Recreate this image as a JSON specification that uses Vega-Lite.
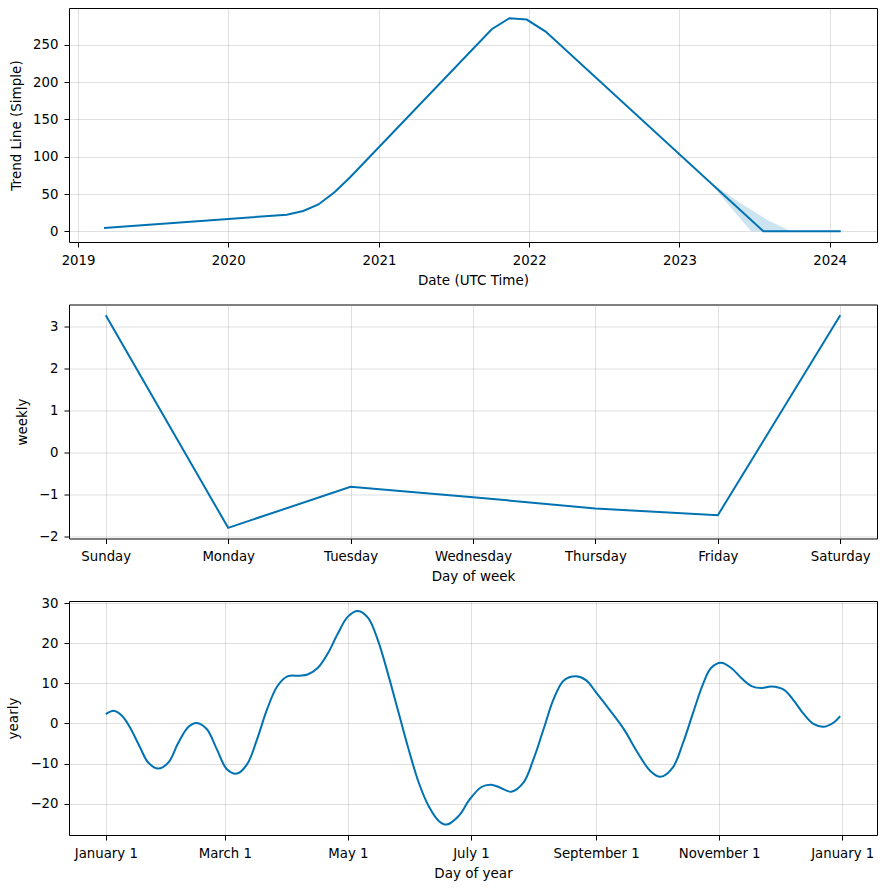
{
  "$schema": "https://vega.github.io/schema/vega-lite/v6.json",
  "padding": {"left": 6, "top": 7, "right": 5, "bottom": 5},
  "bounds": "flush",
  "spacing": 62.5,
  "background": "white",
  "config": {
    "font": "DejaVu Sans",
    "view": {"stroke": "black", "strokeWidth": 1},
    "axis": {
      "labelFont": "DejaVu Sans", "labelFontSize": 13.3, "labelColor": "black",
      "titleFont": "DejaVu Sans", "titleFontSize": 13.5, "titleFontWeight": "normal", "titleColor": "black",
      "tickColor": "black", "tickSize": 5, "tickWidth": 1, "domain": false,
      "gridColor": "#808080", "gridOpacity": 0.25, "gridWidth": 1,
      "labelPadding": 6, "titlePadding": 7
    },
    "axisY": {"titlePadding": 9}
  },
  "vconcat": [
    {
      "width": 808, "height": 234,
      "layer": [
        {
          "data": {"values": [
            {"date": "2023-03-14", "lower": 66.7, "upper": 66.7},
            {"date": "2023-05-26", "lower": 19, "upper": 39},
            {"date": "2023-06-24", "lower": 0, "upper": 29},
            {"date": "2023-08-04", "lower": 0, "upper": 15},
            {"date": "2023-09-29", "lower": 0, "upper": 0},
            {"date": "2024-01-28", "lower": 0, "upper": 0}
          ]},
          "mark": {"type": "area", "color": "#0072B2", "opacity": 0.2},
          "encoding": {
            "x": {"field": "date", "type": "temporal",
                  "scale": {"type": "utc", "domain": [{"year": 2018, "month": 12, "date": 10, "utc": true}, {"year": 2024, "month": 4, "date": 25, "utc": true}], "nice": false},
                  "title": "Date (UTC Time)"},
            "y": {"field": "upper", "type": "quantitative", "title": "Trend Line (Simple)",
                  "scale": {"domain": [-14.3, 299.5], "nice": false, "zero": false}},
            "y2": {"field": "lower"}
          }
        },
        {
          "data": {"values": [
            {"date": "2019-03-05", "trend": 4.4},
            {"date": "2020-05-22", "trend": 22.3},
            {"date": "2020-07-01", "trend": 27.3},
            {"date": "2020-08-07", "trend": 36},
            {"date": "2020-09-15", "trend": 52.4},
            {"date": "2020-10-23", "trend": 72.6},
            {"date": "2021-10-02", "trend": 271},
            {"date": "2021-11-14", "trend": 285.8},
            {"date": "2021-12-26", "trend": 284},
            {"date": "2022-02-10", "trend": 267.9},
            {"date": "2023-07-24", "trend": 0},
            {"date": "2024-01-28", "trend": 0}
          ]},
          "mark": {"type": "line", "color": "#0072B2", "strokeWidth": 2},
          "encoding": {
            "x": {"field": "date", "type": "temporal",
                  "scale": {"type": "utc", "domain": [{"year": 2018, "month": 12, "date": 10, "utc": true}, {"year": 2024, "month": 4, "date": 25, "utc": true}], "nice": false},
                  "title": "Date (UTC Time)",
                  "axis": {"format": "%Y", "grid": true,
                           "values": [{"year": 2019, "month": 1, "date": 1, "utc": true}, {"year": 2020, "month": 1, "date": 1, "utc": true}, {"year": 2021, "month": 1, "date": 1, "utc": true}, {"year": 2022, "month": 1, "date": 1, "utc": true}, {"year": 2023, "month": 1, "date": 1, "utc": true}, {"year": 2024, "month": 1, "date": 1, "utc": true}]}},
            "y": {"field": "trend", "type": "quantitative", "title": "Trend Line (Simple)",
                  "scale": {"domain": [-14.3, 299.5], "nice": false, "zero": false},
                  "axis": {"values": [0, 50, 100, 150, 200, 250]}}
          }
        }
      ]
    },
    {
      "width": 808, "height": 234,
      "data": {"values": [
        {"day": "Sunday", "weekly": 3.276},
        {"day": "Monday", "weekly": -1.786},
        {"day": "Tuesday", "weekly": -0.81},
        {"day": "Wednesday", "weekly": -1.057},
        {"day": "Thursday", "weekly": -1.326},
        {"day": "Friday", "weekly": -1.486},
        {"day": "Saturday", "weekly": 3.276}
      ]},
      "mark": {"type": "line", "color": "#0072B2", "strokeWidth": 2},
      "encoding": {
        "x": {"field": "day", "type": "ordinal",
              "sort": ["Sunday", "Monday", "Tuesday", "Wednesday", "Thursday", "Friday", "Saturday"],
              "scale": {"type": "point", "padding": 0.3},
              "title": "Day of week",
              "axis": {"labelAngle": 0, "grid": true, "ticks": true}},
        "y": {"field": "weekly", "type": "quantitative", "title": "weekly",
              "scale": {"domain": [-2.04, 3.53], "nice": false, "zero": false},
              "axis": {"values": [-2, -1, 0, 1, 2, 3], "labelExpr": "replace(datum.label, '-', '−')"}}
      }
    },
    {
      "width": 808, "height": 234,
      "data": {"values": [
        {"date": "2017-01-01", "yearly": 2.3},
        {"date": "2017-01-05", "yearly": 3.15},
        {"date": "2017-01-09", "yearly": 1.9},
        {"date": "2017-01-13", "yearly": -1.0},
        {"date": "2017-01-18", "yearly": -6.0},
        {"date": "2017-01-22", "yearly": -9.75},
        {"date": "2017-01-27", "yearly": -11.25},
        {"date": "2017-02-01", "yearly": -9.75},
        {"date": "2017-02-06", "yearly": -4.75},
        {"date": "2017-02-11", "yearly": -0.85},
        {"date": "2017-02-15", "yearly": 0.1},
        {"date": "2017-02-20", "yearly": -1.4},
        {"date": "2017-02-25", "yearly": -6.4},
        {"date": "2017-03-02", "yearly": -11.4},
        {"date": "2017-03-07", "yearly": -12.5},
        {"date": "2017-03-12", "yearly": -10.2},
        {"date": "2017-03-17", "yearly": -3.9},
        {"date": "2017-03-22", "yearly": 3.6},
        {"date": "2017-03-27", "yearly": 9.25},
        {"date": "2017-04-01", "yearly": 11.7},
        {"date": "2017-04-07", "yearly": 11.9},
        {"date": "2017-04-11", "yearly": 12.2},
        {"date": "2017-04-16", "yearly": 13.8},
        {"date": "2017-04-21", "yearly": 17.4},
        {"date": "2017-04-26", "yearly": 22.4},
        {"date": "2017-05-01", "yearly": 26.6},
        {"date": "2017-05-06", "yearly": 28.0},
        {"date": "2017-05-11", "yearly": 26.3},
        {"date": "2017-05-16", "yearly": 20.5},
        {"date": "2017-05-21", "yearly": 12.1},
        {"date": "2017-05-26", "yearly": 2.9},
        {"date": "2017-05-31", "yearly": -6.3},
        {"date": "2017-06-05", "yearly": -14.6},
        {"date": "2017-06-10", "yearly": -20.6},
        {"date": "2017-06-15", "yearly": -24.3},
        {"date": "2017-06-19", "yearly": -25.2},
        {"date": "2017-06-25", "yearly": -23.0},
        {"date": "2017-06-30", "yearly": -19.2},
        {"date": "2017-07-06", "yearly": -15.9},
        {"date": "2017-07-11", "yearly": -15.3},
        {"date": "2017-07-15", "yearly": -15.9},
        {"date": "2017-07-21", "yearly": -17.0},
        {"date": "2017-07-27", "yearly": -14.75},
        {"date": "2017-08-01", "yearly": -8.9},
        {"date": "2017-08-06", "yearly": -1.4},
        {"date": "2017-08-11", "yearly": 6.1},
        {"date": "2017-08-16", "yearly": 10.7},
        {"date": "2017-08-22", "yearly": 11.75},
        {"date": "2017-08-27", "yearly": 10.8},
        {"date": "2017-09-01", "yearly": 7.75},
        {"date": "2017-09-08", "yearly": 3.2},
        {"date": "2017-09-15", "yearly": -1.6},
        {"date": "2017-09-21", "yearly": -6.8},
        {"date": "2017-09-28", "yearly": -11.9},
        {"date": "2017-10-03", "yearly": -13.3},
        {"date": "2017-10-09", "yearly": -11.0},
        {"date": "2017-10-14", "yearly": -5.0},
        {"date": "2017-10-19", "yearly": 2.5},
        {"date": "2017-10-24", "yearly": 9.8},
        {"date": "2017-10-28", "yearly": 13.8},
        {"date": "2017-11-02", "yearly": 15.1},
        {"date": "2017-11-07", "yearly": 13.8},
        {"date": "2017-11-12", "yearly": 11.3},
        {"date": "2017-11-17", "yearly": 9.3},
        {"date": "2017-11-22", "yearly": 8.8},
        {"date": "2017-11-27", "yearly": 9.2},
        {"date": "2017-12-03", "yearly": 8.4},
        {"date": "2017-12-08", "yearly": 5.7},
        {"date": "2017-12-13", "yearly": 2.3},
        {"date": "2017-12-18", "yearly": -0.2},
        {"date": "2017-12-23", "yearly": -0.83},
        {"date": "2017-12-28", "yearly": 0.3},
        {"date": "2017-12-31", "yearly": 1.8}
      ]},
      "mark": {"type": "line", "color": "#0072B2", "strokeWidth": 2, "interpolate": "catmull-rom"},
      "encoding": {
        "x": {"field": "date", "type": "temporal",
              "scale": {"type": "utc", "domain": [{"year": 2016, "month": 12, "date": 13, "hours": 18, "utc": true}, {"year": 2018, "month": 1, "date": 18, "hours": 6, "utc": true}], "nice": false},
              "title": "Day of year",
              "axis": {"format": "%B %-d", "grid": true,
                       "values": [{"year": 2017, "month": 1, "date": 1, "utc": true}, {"year": 2017, "month": 3, "date": 1, "utc": true}, {"year": 2017, "month": 5, "date": 1, "utc": true}, {"year": 2017, "month": 7, "date": 1, "utc": true}, {"year": 2017, "month": 9, "date": 1, "utc": true}, {"year": 2017, "month": 11, "date": 1, "utc": true}, {"year": 2018, "month": 1, "date": 1, "utc": true}]}},
        "y": {"field": "yearly", "type": "quantitative", "title": "yearly",
              "scale": {"domain": [-27.8, 30.5], "nice": false, "zero": false},
              "axis": {"values": [-20, -10, 0, 10, 20, 30], "labelExpr": "replace(datum.label, '-', '−')"}}
      }
    }
  ]
}
